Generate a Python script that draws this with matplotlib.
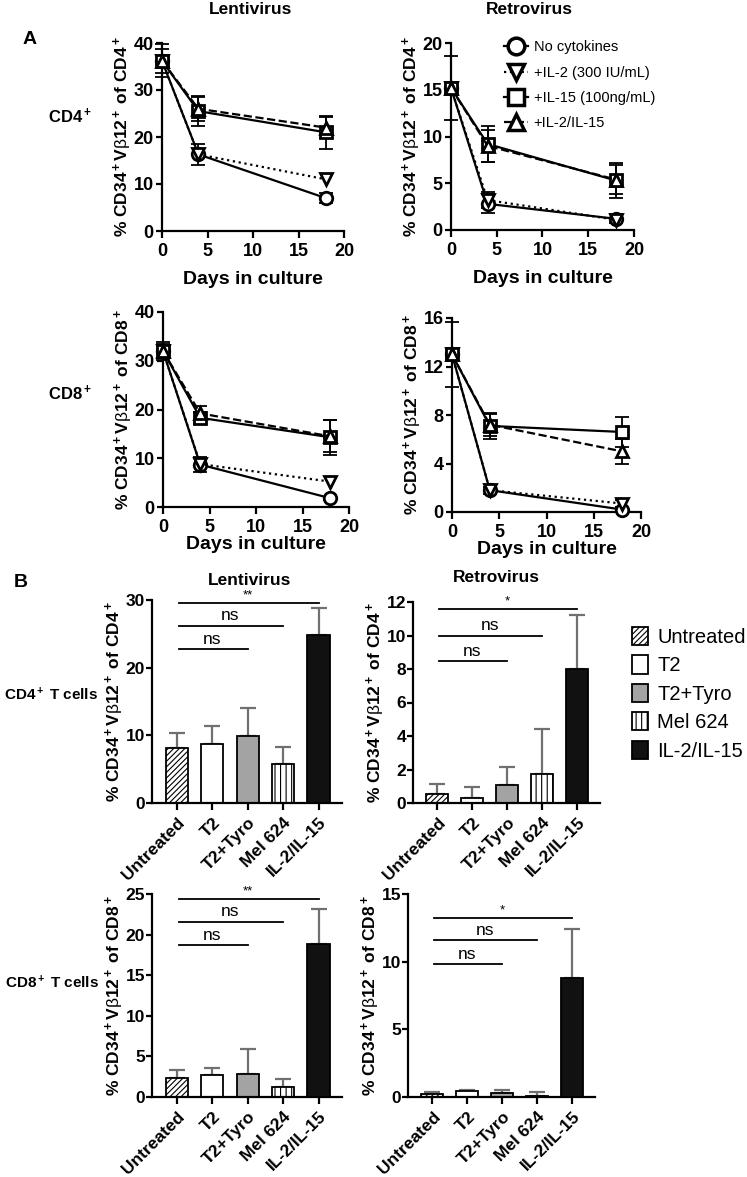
import matplotlib.pyplot as plt
from matplotlib.lines import Line2D
from matplotlib.patches import Patch

plt.rcParams['font.family'] = ['Liberation Sans', 'DejaVu Sans']
plt.rcParams['mathtext.fontset'] = 'custom'
plt.rcParams['mathtext.rm'] = 'Liberation Sans:bold'
plt.rcParams['mathtext.it'] = 'Liberation Sans'
plt.rcParams['mathtext.bf'] = 'Liberation Sans:bold'
plt.rcParams['hatch.linewidth'] = 0.8

# ---- panel A data (rows: No cytokines, +IL-2, +IL-15, +IL-2/IL-15) ----
days = [0, 4, 18]
conditions = ['No cytokines', '+IL-2 (300 IU/mL)', '+IL-15 (100ng/mL)', '+IL-2/IL-15']

lenti_cd4_mean = [[36.2, 16.3, 7.0], [36.2, 16.3, 11.0], [36.2, 25.5, 21.0], [36.2, 26.0, 22.0]]
lenti_cd4_err = [[3.5, 2.3, 1.0], [0, 0, 0], [2.5, 3.2, 3.5], [0, 2.5, 2.2]]
retro_cd4_mean = [[15.2, 2.8, 1.2], [15.2, 3.2, 1.1], [15.2, 9.2, 5.3], [15.2, 9.0, 5.4]]
retro_cd4_err = [[3.4, 1.0, 0.5], [0, 0.9, 0], [0, 1.9, 1.9], [0, 1.7, 1.5]]
lenti_cd8_mean = [[32.0, 8.7, 1.8], [32.0, 8.8, 5.2], [32.0, 18.3, 14.3], [32.0, 19.2, 14.5]]
lenti_cd8_err = [[1.8, 1.5, 0.3], [0, 0, 0], [1.5, 1.2, 3.6], [0, 1.5, 3.3]]
retro_cd8_mean = [[13.0, 1.8, 0.2], [13.0, 1.8, 0.7], [13.0, 7.1, 6.6], [13.0, 7.2, 5.0]]
retro_cd8_err = [[2.7, 0.3, 0.2], [0, 0, 0.3], [0, 1.05, 1.2], [0, 0.9, 1.0]]

# ---- panel B data ----
groups = ['Untreated', 'T2', 'T2+Tyro', 'Mel 624', 'IL-2/IL-15']
lenti_cd4_bar = [8.1, 8.7, 9.9, 5.7, 24.9]
lenti_cd4_sem = [2.3, 2.7, 4.1, 2.6, 3.9]
retro_cd4_bar = [0.55, 0.3, 1.05, 1.75, 8.0]
retro_cd4_sem = [0.6, 0.65, 1.1, 2.65, 3.25]
lenti_cd8_bar = [2.3, 2.7, 2.8, 1.2, 18.8]
lenti_cd8_sem = [1.0, 0.9, 3.1, 1.0, 4.4]
retro_cd8_bar = [0.25, 0.45, 0.3, 0.1, 8.8]
retro_cd8_sem = [0.15, 0.05, 0.2, 0.3, 3.6]
lenti_cd4_sig = [22.7, 26.2, 29.5]
retro_cd4_sig = [8.45, 10.0, 11.6]
lenti_cd8_sig = [18.7, 21.6, 24.4]
retro_cd8_sig = [9.8, 11.6, 13.2]

W, H = 747, 1177
fig = plt.figure(figsize=(W / 100, H / 100), dpi=100)


def add_ax(l, t, r, b):
    return fig.add_axes([l / W, 1 - b / H, (r - l) / W, (b - t) / H])


def style(ax, size, pad):
    for s in ['top', 'right']:
        ax.spines[s].set_visible(False)
    for s in ['left', 'bottom']:
        ax.spines[s].set_linewidth(1.6)
    ax.tick_params(width=1.6, length=5, labelsize=size)
    ax.tick_params(axis='y', pad=pad, length=4)
    for lab in ax.get_xticklabels() + ax.get_yticklabels():
        lab.set_fontweight('bold')


markers = ['o', 'v', 's', '^']
lstyles = ['-', ':', '-', '--']
msizes = [9, 8, 9, 9]


def line_panel(box, means, errs, ymax, yticks, cell, labelpad):
    ax = add_ax(*box)
    for m, e, mk, ls, ms in zip(means, errs, markers, lstyles, msizes):
        ax.plot(days, m, color='black', ls=ls, lw=1.6, marker=mk, ms=ms, mfc='white',
                mec='black', mew=2, clip_on=False, zorder=3)
        xs = [d for d, v in zip(days, e) if v > 0]
        ys = [y for y, v in zip(m, e) if v > 0]
        es = [v for v in e if v > 0]
        ax.errorbar(xs, ys, yerr=es, fmt='none', ecolor='black', capsize=5,
                    elinewidth=1.3, capthick=1.3, clip_on=False, zorder=2)
    ax.set_xlim(0, 20)
    ax.set_ylim(0, ymax)
    ax.set_xticks([0, 5, 10, 15, 20])
    ax.set_yticks(yticks)
    style(ax, 13, 2)
    ax.set_xlabel('Days in culture', fontsize=14, fontweight='bold', labelpad=labelpad)
    ax.set_ylabel('% CD34$^+$V$\\beta$12$^+$ of ' + cell + '$^+$', fontsize=12.5,
                  fontweight='bold', labelpad=0)
    return ax


line_panel((162, 43, 344, 231), lenti_cd4_mean, lenti_cd4_err, 40, [0, 10, 20, 30, 40], 'CD4', 8)
ax_tr = line_panel((451, 43, 634, 230), retro_cd4_mean, retro_cd4_err, 20, [0, 5, 10, 15, 20], 'CD4', 8)
line_panel((163, 312, 349, 507), lenti_cd8_mean, lenti_cd8_err, 40, [0, 10, 20, 30, 40], 'CD8', 0)
line_panel((452, 318, 641, 512), retro_cd8_mean, retro_cd8_err, 16, [0, 4, 8, 12, 16], 'CD8', 0)

handles_a = [Line2D([], [], color='black', ls=ls, lw=1.6, marker=mk, ms=12, mfc='white',
                    mec='black', mew=2.5) for mk, ls in zip(markers, lstyles)]
ax_tr.legend(handles_a, conditions, loc='upper left', bbox_to_anchor=(0.22, 1.085),
             frameon=False, fontsize=10.5, handlelength=1.6, handletextpad=0.4,
             labelspacing=0.78)

bar_fc = ['white', 'white', '#a3a3a3', 'white', '#111111']
bar_hatch = ['//////', None, None, '|||', None]


def bar_panel(box, vals, sems, sigs, ymax, yticks, cell, star):
    ax = add_ax(*box)
    x = list(range(len(groups)))
    ax.errorbar(x, vals, yerr=[[0] * len(x), sems], fmt='none', ecolor='#707070',
                elinewidth=1.6, capsize=6, capthick=1.6, zorder=1)
    ax.bar(x, vals, width=0.63, color=bar_fc, edgecolor='black', linewidth=1.3,
           hatch=bar_hatch, zorder=2)
    labels = ['ns', 'ns', star]
    for k, (yv, lab) in enumerate(zip(sigs, labels)):
        end = k + 2
        ax.plot([0.05, end], [yv, yv], color='black', lw=1.3, clip_on=False)
        if lab == 'ns':
            ax.text(end / 2, yv + ymax * 0.012, lab, ha='center', va='bottom', fontsize=12.5)
        else:
            ax.text(end / 2, yv + ymax * 0.008, lab, ha='center', va='bottom', fontsize=9.5)
    ax.set_xlim(-0.7, 4.66)
    ax.set_ylim(0, ymax)
    ax.set_yticks(yticks)
    ax.set_xticks(x)
    ax.set_xticklabels(groups, rotation=45, ha='right', rotation_mode='anchor')
    style(ax, 12.5, 1)
    ax.set_ylabel('% CD34$^+$V$\\beta$12$^+$ of ' + cell + '$^+$', fontsize=12.5,
                  fontweight='bold', labelpad=0)
    return ax


bar_panel((152, 600, 342, 803), lenti_cd4_bar, lenti_cd4_sem, lenti_cd4_sig, 30,
          [0, 10, 20, 30], 'CD4', '**')
bar_panel((413, 602, 600, 803), retro_cd4_bar, retro_cd4_sem, retro_cd4_sig, 12,
          [0, 2, 4, 6, 8, 10, 12], 'CD4', '*')
bar_panel((152, 894, 342, 1097), lenti_cd8_bar, lenti_cd8_sem, lenti_cd8_sig, 25,
          [0, 5, 10, 15, 20, 25], 'CD8', '**')
bar_panel((408, 894, 595, 1097), retro_cd8_bar, retro_cd8_sem, retro_cd8_sig, 15,
          [0, 5, 10, 15], 'CD8', '*')

handles_b = [Patch(facecolor=fc, edgecolor='black', hatch=h, linewidth=1.3)
             for fc, h in zip(bar_fc, bar_hatch)]
fig.legend(handles_b, groups, loc='upper left', bbox_to_anchor=(614 / W, 1 - 609 / H),
           frameon=False, fontsize=14.5, handlelength=0.8, handleheight=1.0,
           handletextpad=0.45, labelspacing=0.42)

# panel headings and row labels
fig.text(30 / W, 1 - 39 / H, 'A', fontsize=14, fontweight='bold', ha='center', va='center')
fig.text(21 / W, 1 - 583 / H, 'B', fontsize=14, fontweight='bold', ha='center', va='center')
fig.text(251 / W, 1 - 9 / H, 'Lentivirus', fontsize=12.5, fontweight='bold', ha='center', va='center')
fig.text(529 / W, 1 - 9 / H, 'Retrovirus', fontsize=12.5, fontweight='bold', ha='center', va='center')
fig.text(250 / W, 1 - 580 / H, 'Lentivirus', fontsize=12.5, fontweight='bold', ha='center', va='center')
fig.text(496 / W, 1 - 578 / H, 'Retrovirus', fontsize=12.5, fontweight='bold', ha='center', va='center')
fig.text(70 / W, 1 - 116 / H, 'CD4$^+$', fontsize=12, fontweight='bold', ha='center', va='center')
fig.text(70 / W, 1 - 393 / H, 'CD8$^+$', fontsize=12, fontweight='bold', ha='center', va='center')
fig.text(4 / W, 1 - 695 / H, 'CD4$^+$ T cells', fontsize=11, fontweight='bold', ha='left', va='center')
fig.text(5 / W, 1 - 983 / H, 'CD8$^+$ T cells', fontsize=11, fontweight='bold', ha='left', va='center')

fig.savefig('out.png', dpi=100)
